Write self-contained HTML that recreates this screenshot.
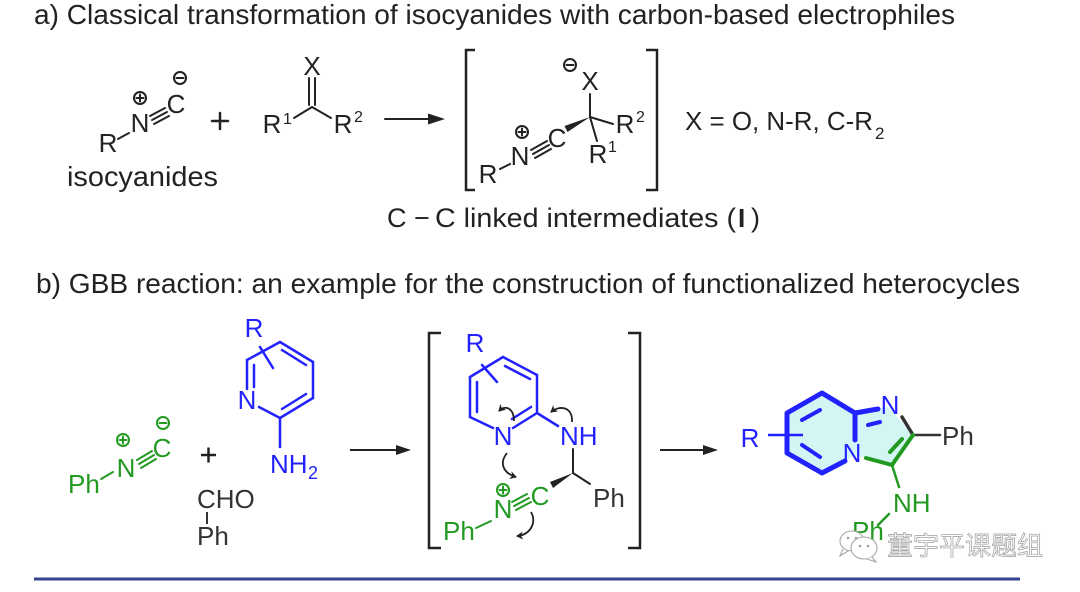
<!DOCTYPE html>
<html><head><meta charset="utf-8"><style>
html,body{margin:0;padding:0;background:#fff;}
svg{display:block;}
text{font-family:"Liberation Sans",Arial,sans-serif;}
</style></head><body>
<svg width="1080" height="592" viewBox="0 0 1080 592" xmlns="http://www.w3.org/2000/svg">
<defs>
<marker id="ah" markerWidth="8" markerHeight="8" refX="6" refY="4" orient="auto" markerUnits="userSpaceOnUse">
<path d="M0,0 L7,4 L0,8 L2,4 Z" fill="#222"/>
</marker>
</defs>
<rect width="1080" height="592" fill="#fff"/>

<!-- Titles -->
<text x="34" y="24" font-size="28" fill="#222" textLength="921" lengthAdjust="spacingAndGlyphs">a) Classical transformation of isocyanides with carbon-based electrophiles</text>
<text x="36" y="293" font-size="28" fill="#222" textLength="984" lengthAdjust="spacingAndGlyphs">b) GBB reaction: an example for the construction of functionalized heterocycles</text>

<!-- ===== Part a ===== -->
<g fill="#222" font-size="26" stroke="none">
<text x="108" y="152" text-anchor="middle">R</text>
<text x="140" y="132" text-anchor="middle">N</text>
<text x="176" y="113" text-anchor="middle">C</text>
<text x="67" y="186" font-size="28" textLength="151" lengthAdjust="spacingAndGlyphs">isocyanides</text>
<text x="272" y="133" text-anchor="middle">R</text>
<text x="283" y="124" font-size="16">1</text>
<text x="312" y="75" text-anchor="middle">X</text>
<text x="343" y="133" text-anchor="middle">R</text>
<text x="354" y="122" font-size="16">2</text>
<text x="488" y="183" text-anchor="middle">R</text>
<text x="520" y="165" text-anchor="middle">N</text>
<text x="557" y="147" text-anchor="middle">C</text>
<text x="590" y="90" text-anchor="middle">X</text>
<text x="625" y="133" text-anchor="middle">R</text>
<text x="636" y="122" font-size="16">2</text>
<text x="598" y="163" text-anchor="middle">R</text>
<text x="608" y="152" font-size="16">1</text>
<text x="685" y="130" textLength="188" lengthAdjust="spacingAndGlyphs">X = O, N-R, C-R</text>
<text x="875" y="139" font-size="17">2</text>
<text x="387" y="227" font-size="27">C</text>
<text x="414" y="227" font-size="27">−</text>
<text x="435" y="227" font-size="27" textLength="301" lengthAdjust="spacingAndGlyphs">C linked intermediates (</text>
<text x="738" y="227" font-size="26" font-family="Liberation Serif,serif" font-weight="bold">I</text>
<text x="751" y="227" font-size="27">)</text>
</g>
<g stroke="#222" stroke-width="2" fill="none" stroke-linecap="round">
<!-- isocyanide -->
<line x1="118" y1="139" x2="129" y2="133"/>
<line x1="150" y1="116" x2="165" y2="108"/>
<line x1="152" y1="120" x2="167" y2="112"/>
<line x1="154" y1="124" x2="169" y2="116"/>
<circle cx="140" cy="98" r="6"/>
<line x1="136.5" y1="98" x2="143.5" y2="98"/><line x1="140" y1="94.5" x2="140" y2="101.5"/>
<circle cx="180" cy="78" r="6"/>
<line x1="176.5" y1="78" x2="183.5" y2="78"/>
<!-- plus -->
<line x1="212" y1="121" x2="228" y2="121" stroke-width="2.5"/>
<line x1="220" y1="113" x2="220" y2="129" stroke-width="2.5"/>
<!-- carbonyl -->
<line x1="294" y1="118" x2="312" y2="107"/>
<line x1="312" y1="107" x2="331" y2="118"/>
<line x1="309" y1="105" x2="309" y2="78"/>
<line x1="315" y1="105" x2="315" y2="78"/>
<!-- arrow -->
<line x1="385" y1="119" x2="432" y2="119"/>
<!-- brackets -->
<path d="M475,50 L466,50 L466,190 L475,190" stroke-width="2.5" stroke-linecap="butt"/>
<path d="M646,50 L657,50 L657,190 L646,190" stroke-width="2.5" stroke-linecap="butt"/>
<!-- intermediate -->
<line x1="500" y1="169" x2="510" y2="164"/>
<line x1="531" y1="150" x2="547" y2="141"/>
<line x1="533" y1="154" x2="549" y2="145"/>
<line x1="535" y1="158" x2="551" y2="149"/>
<circle cx="522" cy="132" r="6"/>
<line x1="518.5" y1="132" x2="525.5" y2="132"/><line x1="522" y1="128.5" x2="522" y2="135.5"/>
<line x1="590" y1="117" x2="590" y2="94"/>
<line x1="590" y1="117" x2="613" y2="124"/>
<line x1="590" y1="117" x2="597" y2="141"/>
<circle cx="570" cy="65" r="6"/>
<line x1="566.5" y1="65" x2="573.5" y2="65"/>
</g>
<polygon points="445,119 428,113.5 428,124.5" fill="#222"/>
<polygon points="590,117 567.5,132 564.5,126" fill="#222"/>

<!-- ===== Part b ===== -->
<!-- isocyanide green -->
<g fill="#229a22" font-size="26">
<text x="68" y="493">Ph</text>
<text x="126" y="477" text-anchor="middle">N</text>
<text x="162" y="457" text-anchor="middle">C</text>
</g>
<g stroke="#229a22" stroke-width="2" fill="none" stroke-linecap="round">
<line x1="101" y1="479" x2="113" y2="472"/>
<line x1="137" y1="460" x2="152" y2="451"/>
<line x1="139" y1="464" x2="154" y2="455"/>
<line x1="141" y1="468" x2="156" y2="459"/>
<circle cx="123" cy="440" r="6"/>
<line x1="119.5" y1="440" x2="126.5" y2="440"/><line x1="123" y1="436.5" x2="123" y2="443.5"/>
<circle cx="163" cy="423" r="6"/>
<line x1="159.5" y1="423" x2="166.5" y2="423"/>
</g>
<!-- plus -->
<g stroke="#222" stroke-width="2.5">
<line x1="201" y1="455" x2="216" y2="455"/>
<line x1="208.5" y1="447.5" x2="208.5" y2="462.5"/>
</g>
<!-- aminopyridine blue -->
<g fill="#2222ff" font-size="26">
<text x="254" y="337" text-anchor="middle">R</text>
<text x="247" y="409" text-anchor="middle">N</text>
<text x="270" y="473">NH</text>
<text x="308" y="479" font-size="18">2</text>
</g>
<g stroke="#2222ff" stroke-width="2.5" fill="none" stroke-linecap="round">
<line x1="247" y1="389" x2="247" y2="360"/>
<line x1="254" y1="387" x2="254" y2="365"/>
<line x1="247" y1="360" x2="280" y2="342"/>
<line x1="280" y1="342" x2="313" y2="362"/>
<line x1="282" y1="350" x2="306" y2="365"/>
<line x1="313" y1="362" x2="313" y2="398"/>
<line x1="313" y1="398" x2="280" y2="418"/>
<line x1="306" y1="394" x2="282" y2="409"/>
<line x1="280" y1="418" x2="259" y2="407"/>
<line x1="260" y1="347" x2="273" y2="368"/>
<line x1="280" y1="418" x2="280" y2="447"/>
</g>
<!-- aldehyde -->
<g fill="#333" font-size="26">
<text x="197" y="508">CHO</text>
<text x="197" y="545">Ph</text>
</g>
<line x1="207" y1="512" x2="207" y2="524" stroke="#333" stroke-width="2"/>
<!-- arrow 1 -->
<line x1="350" y1="450" x2="398" y2="450" stroke="#222" stroke-width="2"/>
<polygon points="411,450 396,445 396,455" fill="#222"/>

<!-- brackets -->
<g stroke="#222" stroke-width="2.5" fill="none">
<path d="M441,333 L429,333 L429,548 L441,548"/>
<path d="M628,333 L640,333 L640,548 L628,548"/>
</g>
<!-- intermediate blue -->
<g fill="#2222ff" font-size="26">
<text x="475" y="352" text-anchor="middle">R</text>
<text x="503" y="445" text-anchor="middle">N</text>
<text x="560" y="445">NH</text>
</g>
<g stroke="#2222ff" stroke-width="2.5" fill="none" stroke-linecap="round">
<line x1="470" y1="377" x2="503" y2="357"/>
<line x1="503" y1="357" x2="537" y2="375"/>
<line x1="505" y1="366" x2="530" y2="379"/>
<line x1="537" y1="375" x2="537" y2="413"/>
<line x1="537" y1="413" x2="513" y2="428"/>
<line x1="531" y1="407" x2="512" y2="419"/>
<line x1="493" y1="428" x2="470" y2="417"/>
<line x1="470" y1="417" x2="470" y2="377"/>
<line x1="477" y1="412" x2="477" y2="382"/>
<line x1="482" y1="365" x2="497" y2="382"/>
<line x1="537" y1="413" x2="558" y2="426"/>
</g>
<!-- CH + Ph -->
<g stroke="#222" stroke-width="2" fill="none" stroke-linecap="round">
<line x1="573" y1="449" x2="573" y2="473"/>
<line x1="573" y1="473" x2="590" y2="484"/>
</g>
<polygon points="573,473 553,488 550,482" fill="#222"/>
<text x="593" y="507" font-size="26" fill="#333">Ph</text>
<!-- green isocyanide in intermediate -->
<g fill="#229a22" font-size="26">
<text x="443" y="540">Ph</text>
<text x="503" y="518" text-anchor="middle">N</text>
<text x="540" y="505" text-anchor="middle">C</text>
</g>
<g stroke="#229a22" stroke-width="2" fill="none" stroke-linecap="round">
<line x1="476" y1="528" x2="491" y2="521"/>
<line x1="512" y1="502" x2="527" y2="494"/>
<line x1="514" y1="506" x2="529" y2="498"/>
<line x1="516" y1="510" x2="531" y2="502"/>
<circle cx="503" cy="490" r="6"/>
<line x1="499.5" y1="490" x2="506.5" y2="490"/><line x1="503" y1="486.5" x2="503" y2="493.5"/>
</g>
<!-- curved arrows -->
<g stroke="#222" stroke-width="1.8" fill="none" marker-end="url(#ah)">
<path d="M507,453 C499,463 503,473 516,477"/>
<path d="M572,422 C573,408 561,404 551,412"/>
<path d="M514,421 C514,409 506,404 499,411"/>
<path d="M531,512 C537,523 530,535 517,536"/>
</g>

<!-- arrow 2 -->
<line x1="660" y1="450" x2="705" y2="450" stroke="#222" stroke-width="2"/>
<polygon points="718,450 703,445 703,455" fill="#222"/>

<!-- product -->
<polygon points="822,393 855,413 888,407 913,435 892,465 855,455 822,473 787,453 787,413" fill="#d3f6f4"/>
<g stroke="#2222ff" stroke-width="5" fill="none" stroke-linecap="round" stroke-linejoin="round">
<path d="M845,461 L822,473 L787,453 L787,413 L822,393 L855,413 L855,440"/>
<line x1="855" y1="413" x2="878" y2="409"/>
<line x1="802" y1="420" x2="820" y2="410" stroke-width="4"/>
<line x1="802" y1="445" x2="820" y2="457" stroke-width="4"/>
<line x1="868" y1="425" x2="880" y2="422" stroke-width="4"/>
</g>
<line x1="768" y1="435" x2="803" y2="435" stroke="#2222ff" stroke-width="2.5"/>
<g fill="#2222ff" font-size="26">
<text x="750" y="447" text-anchor="middle">R</text>
<text x="852" y="462" text-anchor="middle">N</text>
<text x="890" y="414" text-anchor="middle">N</text>
</g>
<g stroke="#333" stroke-width="3.5" fill="none" stroke-linecap="round">
<line x1="902" y1="417" x2="913" y2="435"/>
<line x1="913" y1="435" x2="940" y2="435" stroke-width="2.5"/>
</g>
<text x="942" y="445" font-size="26" fill="#333">Ph</text>
<g stroke="#229a22" stroke-width="4" fill="none" stroke-linecap="round">
<line x1="913" y1="435" x2="892" y2="465"/>
<line x1="902" y1="439" x2="890" y2="452"/>
<line x1="892" y1="465" x2="866" y2="458"/>
<line x1="892" y1="465" x2="899" y2="487" stroke-width="2.5"/>
<line x1="889" y1="514" x2="878" y2="525" stroke-width="2.5"/>
</g>
<g fill="#229a22" font-size="26">
<text x="893" y="512">NH</text>
<text x="852" y="540">Ph</text>
</g>

<!-- watermark -->
<g fill="#fff" stroke="#a8a8a8" stroke-width="1.1">
<ellipse cx="852" cy="541" rx="12" ry="10"/>
<path d="M843,549 L840,556 L848,551"/>
<ellipse cx="864" cy="548" rx="13" ry="11"/>
<path d="M872,557 L876,562 L867,559"/>
</g>
<g fill="#a0a0a0">
<circle cx="848" cy="538" r="1.3"/><circle cx="856" cy="538" r="1.3"/>
<circle cx="860" cy="546" r="1.3"/><circle cx="868" cy="546" r="1.3"/>
</g>
<text x="887" y="555" font-size="26" font-family="Liberation Sans, Noto Sans CJK SC, sans-serif" fill="#fff" stroke="#9c9c9c" stroke-width="0.7" textLength="156" lengthAdjust="spacingAndGlyphs">董宇平课题组</text>

<!-- bottom rule -->
<line x1="34" y1="579" x2="1020" y2="579" stroke="#34448f" stroke-width="3"/>
</svg>
</body></html>
